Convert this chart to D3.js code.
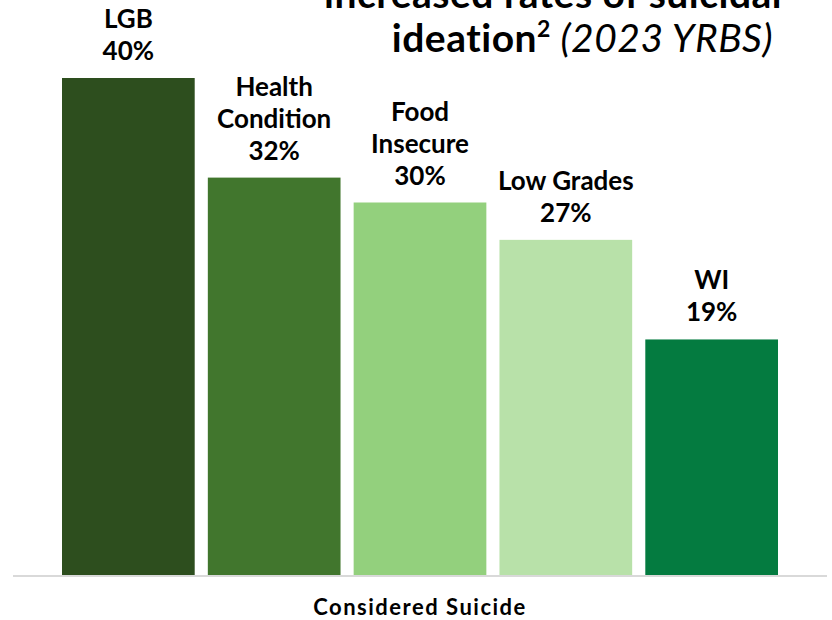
<!DOCTYPE html>
<html><head><meta charset="utf-8">
<script src="https://cdn.jsdelivr.net/npm/d3@7"></script>
<style>
html,body{margin:0;padding:0;background:#fff;}
svg{display:block;font-family:Lato,"Open Sans",sans-serif;}
</style></head>
<body>
<svg id="chart" width="832" height="620"></svg>
<script>
const category = "Considered Suicide";
const series = ["LGB", "Health Condition", "Food Insecure", "Low Grades", "WI"];
const labelLines = [["LGB"], ["Health", "Condition"], ["Food", "Insecure"], ["Low Grades"], ["WI"]];
const values = [40, 32, 30, 27, 19];
const colors = ["#2d4e1e", "#41762d", "#93d07d", "#b8e1a9", "#047b40"];
const titleLine1 = "increased rates of suicidal";
const titleLine2 = "ideation";
const titleSup = "2";
const titleItalic = " (2023 YRBS)";

const svg = d3.select("#chart");
const base = 576;

const x0 = d3.scaleBand().domain([category]).range([13, 827]);
const x1 = d3.scaleBand().domain(series)
  .range([x0(category) + 49, x0(category) + x0.bandwidth() - 49])
  .paddingInner(0.09);
const y = d3.scaleLinear().domain([0, 40]).range([base, 78]);

// bars
svg.append("g").selectAll("rect").data(series).join("rect")
  .attr("x", d => x1(d))
  .attr("y", (d, i) => y(values[i]))
  .attr("width", x1.bandwidth())
  .attr("height", (d, i) => base - y(values[i]))
  .attr("fill", (d, i) => colors[i]);

// axis line
const xAxis = d3.axisBottom(x0).tickSize(0).tickPadding(23);
const ax = svg.append("g").attr("transform", `translate(0,${base})`).call(xAxis);
ax.select(".domain").attr("stroke", "#d9d9d9").attr("stroke-width", 2)
  .attr("d", `M${x0.range()[0]},0H${x0.range()[1]}`);
ax.selectAll("text").attr("font-size", 22).attr("font-weight", 700)
  .attr("letter-spacing", 1.5)
  .attr("fill", "#000").attr("font-family", "Lato, sans-serif");

// data labels
const lblG = svg.append("g");
series.forEach((s, i) => {
  const lines = labelLines[i].concat([values[i] + "%"]);
  const cx = x1(s) + x1.bandwidth() / 2;
  const lastBase = y(values[i]) - 18;
  const t = lblG.append("text").attr("text-anchor", "middle")
    .attr("font-size", 26).attr("font-weight", 700).attr("fill", "#000");
  lines.forEach((ln, k) => {
    t.append("tspan").attr("x", cx)
      .attr("y", lastBase - (lines.length - 1 - k) * 32)
      .text(ln);
  });
});

// title
const tg = svg.append("g").attr("font-size", 39).attr("fill", "#000").attr("letter-spacing", 0.5);
tg.append("text").attr("x", 782).attr("y", 8).attr("text-anchor", "end")
  .attr("font-weight", 700).text(titleLine1);
const t2 = tg.append("text").attr("x", 773).attr("y", 52).attr("text-anchor", "end");
t2.append("tspan").attr("font-weight", 700).text(titleLine2);
t2.append("tspan").attr("font-weight", 700).attr("font-size", 23).attr("dy", -15).text(titleSup);
t2.append("tspan").attr("font-style", "italic").attr("dy", 15).text(titleItalic);
</script>
</body></html>
